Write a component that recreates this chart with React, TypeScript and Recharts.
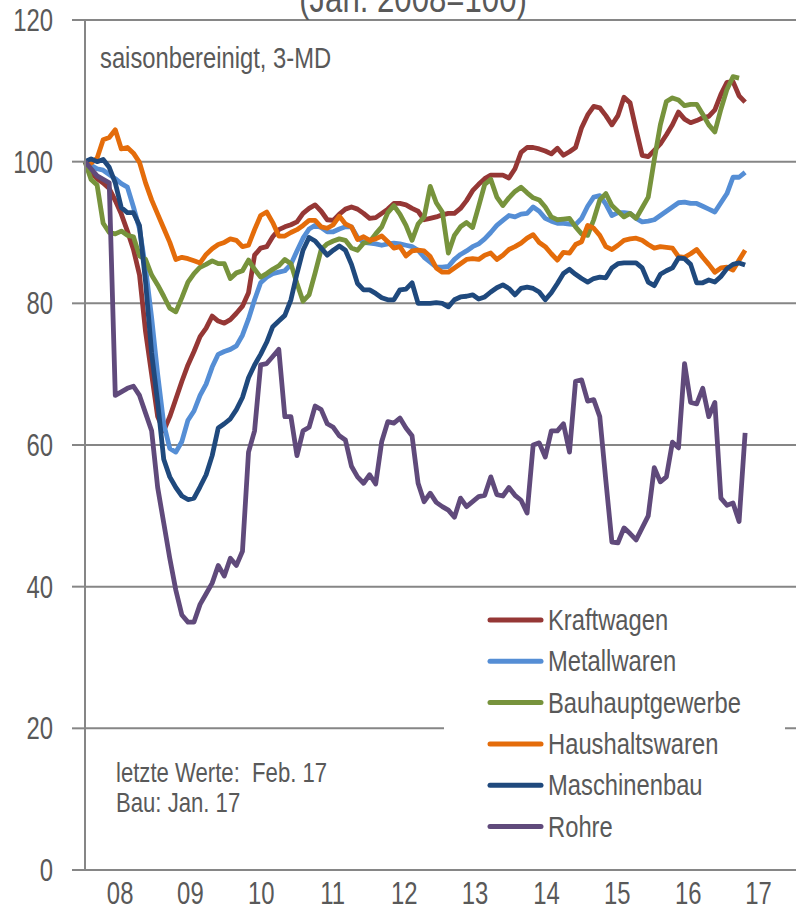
import { LineChart, Line, XAxis, YAxis, CartesianGrid } from "recharts";

// monthly, Jan 08 .. Feb 17 (Bau ends Jan 17)
const years = ["08", "09", "10", "11", "12", "13", "14", "15", "16", "17"];
const yearTicks = [5.8, 17.4, 29.1, 40.9, 52.7, 64.4, 76.2, 87.9, 99.6, 111.2];
const yTicks = [0, 20, 40, 60, 80, 100, 120];

const kraftwagen = [
  100, 98.5, 97.6, 97, 96.2, 94.5, 92.6, 90.2, 87.6, 84, 76, 70,
  64, 62, 64, 66.5, 69, 71.3, 73.2, 75.3, 76.5, 78.2, 77.5, 77.2,
  77.7, 78.6, 79.6, 81.5, 86.8, 87.8, 88, 89.4, 90.4, 90.8, 91.1, 91.5,
  92.7, 93.4, 93.9, 93, 91.8, 91.7, 92.6, 93.3, 93.6, 93.3, 92.7, 92,
  92.1, 92.7, 93.3, 94.1, 94.1, 93.9, 93.4, 93, 91.8, 92, 92.2, 92.5,
  92.7, 92.7, 93.4, 94.5, 95.9, 96.8, 97.6, 98.1, 98.1, 98.1, 97.7, 99,
  101.3, 102, 102, 101.8, 101.5, 101.1, 101.9, 100.9, 101.4, 102, 104.8, 106.6,
  107.8, 107.6, 106.5, 105.2, 106.5, 109.1, 108.3, 104.5, 100.9, 100.7, 101.6, 102.5,
  103.8, 105.2, 107, 106, 105.5, 105.8, 106.2, 106.4, 107.3, 109.5, 111.2, 111.3,
  109.3, 108.4,
];

const metallwaren = [
  100, 99.5, 99, 98.8, 98.2, 97.6, 96.9, 96.4, 93.6, 90.5, 85, 78,
  70, 63, 59.5, 59, 60.5, 63.5, 64.8, 67, 68.6, 71, 72.8, 73.2,
  73.5, 74, 75.5, 77.8, 80.5, 82.9, 83.7, 84.2, 84.4, 84.6, 85.5, 87.4,
  89.2, 90.5, 91, 90.7, 90.1, 90.1, 90.5, 90.8, 90.8, 89.3, 88.6, 88.5,
  88.4, 88.2, 88.4, 88.5, 88.4, 88.2, 88, 87.5, 86.5, 85.8, 85.1, 85.1,
  85.2, 86.2, 86.9, 87.4, 88, 88.4, 89.1, 90, 91, 91.7, 92.4, 92.2,
  92.6, 92.7, 93.6, 93, 92, 91.6, 91.3, 91.3, 91.2, 91.1, 92, 93.7,
  95, 95.2, 94, 92.4, 92.8, 92.8, 92.7, 92, 91.5, 91.6, 91.8, 92.4,
  93, 93.6, 94.2, 94.3, 94.1, 94.1, 93.7, 93.3, 92.9, 94.2, 95.5, 97.8,
  97.8, 98.5,
];

const bauhauptgewerbe = [
  100, 97.5, 96.7, 91.3, 90, 89.8, 90.2, 89.6, 89.4, 86.7, 86.2, 84,
  82.6, 81, 79.3, 78.8, 80.8, 83, 84.2, 85.1, 85.5, 86, 85.6, 85.6,
  83.5, 84.3, 84.6, 86.1, 84.8, 83.7, 84.2, 84.8, 85.3, 86.2, 85.6, 82.8,
  80.3, 81.2, 84.3, 87.6, 88.4, 88.8, 89.1, 88.9, 87.8, 87.5, 88.5, 88.7,
  89.8, 90.8, 92.8, 93.8, 92.6, 91, 88.9, 91.2, 92.2, 96.5, 94.2, 92.9,
  87.1, 89.6, 90.8, 91.4, 90.7, 93.7, 96.8, 97.5, 95, 93.8, 94.9, 95.8,
  96.4, 95.6, 94.9, 94.6, 93.6, 92.2, 91.8, 91.9, 92, 90.8, 89.8, 89.6,
  91.8, 94.6, 95.5, 93.8, 93, 92.2, 92.7, 92, 93.5, 95, 100.3, 105.2,
  108.5, 109, 108.7, 107.9, 108.1, 108.1, 106.7, 105.2, 104.2, 107.4, 110.2, 112,
  111.8,
];

const haushaltswaren = [
  100, 99.8, 100.5, 103.1, 103.4, 104.5, 101.8, 102, 101.2, 99.9, 97, 94.6,
  92.6, 90.6, 88.6, 86.2, 86.5, 86.3, 86, 85.7, 86.9, 87.7, 88.3, 88.6,
  89.1, 88.9, 88, 88.2, 90.4, 92.4, 92.9, 91.4, 89.5, 89.5, 90, 90.4,
  91, 91.7, 91.7, 90.8, 90.6, 91.1, 92.3, 91.2, 90.8, 89, 89.4, 88.9,
  89.1, 89.5, 88.7, 87.8, 88, 86.7, 87.4, 87.5, 87.4, 86.6, 85, 84.4,
  84.4, 85, 85.6, 86.2, 86.3, 86.2, 86.8, 87.1, 86.2, 86.8, 87.6, 88,
  88.5, 89.2, 89.7, 88.6, 88, 87, 86.1, 87.2, 87.1, 88.3, 88.7, 91,
  90.6, 89.6, 88, 87.6, 88.2, 88.9, 89.1, 89.2, 88.9, 88.3, 87.8, 88,
  87.9, 87.8, 86.6, 86.5, 87, 87.6, 86.5, 85.5, 84.4, 85, 85.1, 84.7,
  86.1, 87.5,
];

const maschinenbau = [
  100, 100.4, 100, 100.3, 99.2, 97, 93.5, 92.8, 92.8, 91, 83, 73,
  66, 58, 55.5, 54, 52.8, 52.3, 52.5, 54.1, 55.8, 58.5, 62.4, 63,
  63.7, 65, 66.7, 69.5, 71.3, 72.8, 74.5, 76.7, 77.5, 78.3, 80.5, 84.2,
  87.5, 89.3, 88.8, 87.8, 86.8, 87.5, 88.1, 87.5, 85.5, 82.8, 81.9, 81.9,
  81.4, 80.8, 80.5, 80.5, 81.9, 82, 82.9, 80, 80, 80, 80.1, 80,
  79.5, 80.5, 80.9, 81, 81.2, 80.6, 80.9, 81.6, 82.2, 82.6, 82.1, 81.2,
  82.1, 82.3, 82.1, 81.6, 80.5, 81.5, 82.8, 84.2, 84.8, 84.1, 83.5, 83,
  83.5, 83.7, 83.6, 85, 85.6, 85.7, 85.7, 85.7, 85, 83, 82.5, 84.1,
  84.6, 85, 86.4, 86.3, 85.5, 82.9, 82.9, 83.3, 83, 83.8, 84.9, 85.5,
  85.7, 85.4,
];

const rohre = [
  100, 99, 98, 97.5, 97, 67, 67.5, 68, 68.3, 67, 64.5, 62,
  54, 49, 44, 39.5, 36, 35, 35, 37.5, 39, 40.5, 43, 41.5,
  44, 43, 45, 59, 62, 71.3, 71.5, 72.5, 73.5, 64, 64, 58.5,
  62, 62.5, 65.5, 65, 63, 62.5, 61.3, 60.7, 57, 55.5, 54.6, 55.8,
  54.5, 60.5, 63.3, 63.1, 63.8, 62.4, 61.3, 54.6, 52, 53.2, 51.9, 51.3,
  50.8, 49.8, 52.5, 51.3, 52, 52.7, 52.9, 55.5, 53, 52.8, 54, 52.9,
  52.2, 50.4, 60, 60.3, 58.3, 62, 62, 63, 59, 69, 69.2, 66.2,
  66.4, 64, 55, 46.3, 46.2, 48.3, 47.5, 46.6, 48.3, 50, 56.8, 54.8,
  55.5, 60.4, 59.6, 71.5, 66, 65.8, 68, 64, 66, 52.5, 51.5, 51.8,
  49.2, 61.7,
];

const series = [
  { key: "kraftwagen", name: "Kraftwagen", color: "#953735", values: kraftwagen },
  { key: "metallwaren", name: "Metallwaren", color: "#558ED5", values: metallwaren },
  { key: "bau", name: "Bauhauptgewerbe", color: "#77933C", values: bauhauptgewerbe },
  { key: "haushalt", name: "Haushaltswaren", color: "#E46C0A", values: haushaltswaren },
  { key: "maschinen", name: "Maschinenbau", color: "#1F497D", values: maschinenbau },
  { key: "rohre", name: "Rohre", color: "#604A7B", values: rohre },
];

const data = kraftwagen.map((_, i) => {
  const row: Record<string, number | undefined> = { i };
  series.forEach((s) => {
    row[s.key] = s.values[i];
  });
  return row;
});

const FONT = "'Liberation Sans', Arial, sans-serif";
const TEXT = "#595959";
const GRID = "#868686";

// no narrow font installed, so squeeze the regular one
const NarrowText = ({ x, y, size, anchor = "start", dy, squeeze = 0.82, children }: any) => (
  <text
    transform={`translate(${x} ${y}) scale(${squeeze} 1)`}
    fontSize={size}
    fontFamily={FONT}
    fill={TEXT}
    textAnchor={anchor}
    dy={dy}
  >
    {children}
  </text>
);

const YTick = ({ x, y, payload }: any) => (
  <NarrowText x={x} y={y} size={31} squeeze={0.77} anchor="end" dy="0.355em">
    {payload.value}
  </NarrowText>
);

const XTick = ({ x, y, index }: any) => (
  <NarrowText x={x} y={y} size={31} squeeze={0.77} anchor="middle" dy="0.71em">
    {years[index]}
  </NarrowText>
);

const App = () => {
  return (
    <div style={{ position: "absolute", top: 0, left: 0, width: 796, height: 914, background: "#fff" }}>
      <LineChart
        width={796}
        height={914}
        data={data}
        margin={{ top: 20, right: 0, bottom: 0, left: 0 }}
      >
        <CartesianGrid vertical={false} stroke={GRID} strokeWidth={2} />
        <XAxis
          dataKey="i"
          type="number"
          domain={[0, 117.4]}
          ticks={yearTicks}
          height={44}
          tickLine={false}
          tickSize={0}
          tickMargin={12}
          axisLine={{ stroke: GRID, strokeWidth: 2 }}
          tick={<XTick />}
          interval={0}
        />
        <YAxis
          domain={[0, 120]}
          ticks={yTicks}
          width={85}
          tickSize={13}
          tickMargin={19}
          axisLine={{ stroke: GRID, strokeWidth: 2 }}
          tickLine={{ stroke: GRID, strokeWidth: 2 }}
          tick={<YTick />}
          interval={0}
        />
        {series.map((s) => (
          <Line
            key={s.key}
            dataKey={s.key}
            name={s.name}
            stroke={s.color}
            strokeWidth={4.8}
            dot={false}
            type="linear"
            strokeLinejoin="round"
            isAnimationActive={false}
          />
        ))}
      </LineChart>

      {/* titles, notes and legend on top of the plot */}
      <svg
        width={796}
        height={914}
        style={{ position: "absolute", top: 0, left: 0, pointerEvents: "none" }}
      >
        <NarrowText x={413} y={12} size={38} anchor="middle">
          (Jan. 2008=100)
        </NarrowText>
        <NarrowText x={100} y={68} size={29}>
          saisonbereinigt, 3-MD
        </NarrowText>
        <NarrowText x={116} y={782} size={27}>
          {"letzte Werte:\u00a0 Feb. 17"}
        </NarrowText>
        <NarrowText x={116} y={812} size={27}>
          Bau: Jan. 17
        </NarrowText>
        <rect x={444} y={596} width={341} height={254} fill="#fff" />
        {series.map((s, k) => (
          <g key={s.key}>
            <line
              x1={490}
              x2={541}
              y1={620 + k * 41.3}
              y2={620 + k * 41.3}
              stroke={s.color}
              strokeWidth={5}
              strokeLinecap="round"
            />
            <NarrowText x={548} y={630 + k * 41.3} size={29}>
              {s.name}
            </NarrowText>
          </g>
        ))}
      </svg>
    </div>
  );
};

export default App;
